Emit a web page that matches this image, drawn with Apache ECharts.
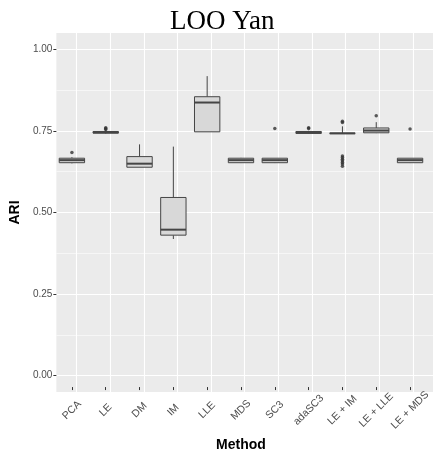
<!DOCTYPE html>
<html>
<head>
<meta charset="utf-8">
<script src="https://cdn.jsdelivr.net/npm/echarts@6/dist/echarts.min.js"></script>
<style>
  html, body { margin: 0; padding: 0; background: #ffffff; }
  #chart { width: 433px; height: 457px; }
</style>
</head>
<body>
<div id="chart"></div>
<script>
// ---- data ----
const categories = ['PCA', 'LE', 'DM', 'IM', 'LLE', 'MDS', 'SC3', 'adaSC3', 'LE + IM', 'LE + LLE', 'LE + MDS'];
const whiskerLow  = [0.645, 0.737, 0.633, 0.410, 0.743, 0.646, 0.646, 0.737, 0.738, 0.739, 0.646];
const q1          = [0.647, 0.739, 0.633, 0.422, 0.743, 0.647, 0.647, 0.738, 0.738, 0.740, 0.647];
const median      = [0.655, 0.741, 0.644, 0.439, 0.834, 0.655, 0.655, 0.741, 0.738, 0.747, 0.655];
const q3          = [0.661, 0.744, 0.666, 0.539, 0.852, 0.661, 0.661, 0.744, 0.739, 0.755, 0.661];
const whiskerHigh = [0.664, 0.748, 0.704, 0.697, 0.916, 0.662, 0.661, 0.746, 0.760, 0.773, 0.661];

const outlierCategory = ['PCA', 'LE', 'LE', 'LE', 'SC3', 'adaSC3', 'adaSC3',
  'LE + IM', 'LE + IM', 'LE + IM', 'LE + IM', 'LE + IM', 'LE + IM', 'LE + IM', 'LE + IM', 'LE + IM',
  'LE + LLE', 'LE + MDS'];
const outlierValue = [0.679, 0.750, 0.753, 0.756, 0.753, 0.753, 0.756,
  0.772, 0.776, 0.668, 0.663, 0.658, 0.653, 0.648, 0.643, 0.636,
  0.793, 0.752];

const yMajorTicks = [0, 0.25, 0.5, 0.75, 1];
const yMinorTicks = [0.125, 0.375, 0.625, 0.875];

// ---- chart ----
const FONT = "'Liberation Sans', Arial, sans-serif";
const chart = echarts.init(document.getElementById('chart'), null, { renderer: 'canvas' });
const catIndex = categories.map((c, i) => i);
const boxData = categories.map((c, i) => [i, whiskerLow[i], q1[i], median[i], q3[i], whiskerHigh[i]]);
const outlierData = outlierCategory.map((c, i) => [c, outlierValue[i]]);

const STROKE = '#454545';
const FILL = '#D8D8D8';

const option = {
  animation: false,
  backgroundColor: '#ffffff',
  title: {
    text: 'LOO Yan',
    left: 165,
    top: 3,
    textStyle: { fontFamily: "'Liberation Serif', 'DejaVu Serif', serif", fontSize: 27, fontWeight: 'normal', color: '#000' }
  },
  grid: [
    { left: 52, right: 0, top: 33, bottom: 65, show: true, backgroundColor: '#EBEBEB', borderWidth: 0 },
    { left: 55, right: 4, top: 33, bottom: 65, show: false }
  ],
  xAxis: [
    {
      gridIndex: 0, type: 'value', min: -0.6, max: 10.6,
      axisLine: { show: false, onZero: false },
      axisTick: { show: false, customValues: catIndex },
      axisLabel: { show: false, customValues: catIndex },
      splitLine: { show: true, lineStyle: { color: '#ffffff', width: 1.1 } }
    },
    {
      gridIndex: 1, type: 'category', data: categories, boundaryGap: true, position: 'bottom',
      axisLine: { show: false, onZero: false },
      axisTick: { show: true, alignWithLabel: true, length: 3, lineStyle: { color: '#333333', width: 1 } },
      axisLabel: { rotate: 45, fontSize: 10.5, color: '#4D4D4D', fontFamily: FONT, margin: 23, interval: 0,
        align: 'center', verticalAlign: 'middle' },
      splitLine: { show: false },
      name: 'Method', nameLocation: 'middle', nameGap: 44,
      nameTextStyle: { fontSize: 14, fontWeight: 'bold', color: '#000', fontFamily: FONT }
    }
  ],
  yAxis: [
    {
      gridIndex: 0, type: 'value', min: -0.05, max: 1.05, position: 'left',
      axisLine: { show: false, onZero: false },
      axisTick: { show: true, length: 3, customValues: yMajorTicks, lineStyle: { color: '#333333', width: 1 } },
      axisLabel: { customValues: yMajorTicks, fontSize: 10, color: '#4D4D4D', fontFamily: FONT, margin: 4,
        formatter: v => v.toFixed(2) },
      splitLine: { show: true, lineStyle: { color: '#ffffff', width: 1.1 } },
      name: 'ARI', nameLocation: 'middle', nameGap: 17, nameRotate: 90,
      nameTextStyle: { fontSize: 14, fontWeight: 'bold', color: '#000', fontFamily: FONT }
    },
    {
      gridIndex: 0, type: 'value', min: -0.05, max: 1.05, position: 'left', offset: 0,
      axisLine: { show: false, onZero: false },
      axisTick: { show: false, customValues: yMinorTicks },
      axisLabel: { show: false, customValues: yMinorTicks },
      splitLine: { show: true, lineStyle: { color: '#ffffff', width: 0.55 } }
    },
    {
      gridIndex: 1, type: 'value', min: -0.05, max: 1.05, show: false,
      axisLine: { onZero: false },
      splitLine: { show: false }
    }
  ],
  series: [
    {
      type: 'custom',
      xAxisIndex: 1, yAxisIndex: 2,
      data: boxData,
      encode: { x: 0, y: [1, 2, 3, 4, 5] },
      renderItem: function (params, api) {
        const i = api.value(0);
        const pLow = api.coord([i, api.value(1)]);
        const pQ1 = api.coord([i, api.value(2)]);
        const pMed = api.coord([i, api.value(3)]);
        const pQ3 = api.coord([i, api.value(4)]);
        const pHigh = api.coord([i, api.value(5)]);
        const band = api.size([1, 0])[0];
        const w = band * 0.75;
        const x = pMed[0];
        const lineStyle = { stroke: STROKE, lineWidth: 1 };
        return {
          type: 'group',
          children: [
            { type: 'line', shape: { x1: x, y1: pQ3[1], x2: x, y2: pHigh[1] }, style: lineStyle },
            { type: 'line', shape: { x1: x, y1: pQ1[1], x2: x, y2: pLow[1] }, style: lineStyle },
            { type: 'rect', shape: { x: x - w / 2, y: pQ3[1], width: w, height: pQ1[1] - pQ3[1] },
              style: { fill: FILL, stroke: STROKE, lineWidth: 1 } },
            { type: 'line', shape: { x1: x - w / 2, y1: pMed[1], x2: x + w / 2, y2: pMed[1] },
              style: { stroke: STROKE, lineWidth: 2 } }
          ]
        };
      }
    },
    {
      type: 'scatter',
      xAxisIndex: 1, yAxisIndex: 2,
      data: outlierData,
      symbol: 'circle',
      symbolSize: 3.5,
      itemStyle: { color: '#333333' }
    }
  ]
};
chart.setOption(option);
</script>
</body>
</html>
